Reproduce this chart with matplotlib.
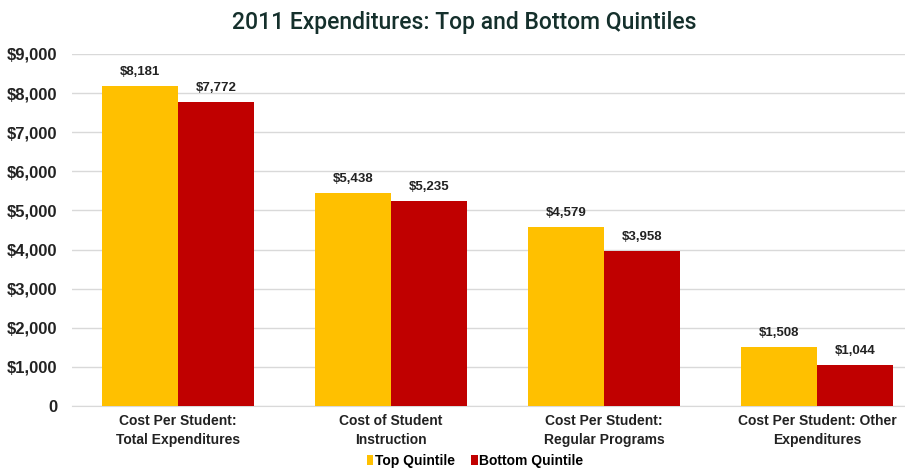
import numpy as np
import matplotlib.pyplot as plt
from matplotlib.ticker import FuncFormatter

plt.rcParams['font.family'] = ['Liberation Sans', 'DejaVu Sans']

categories = ['Cost Per Student:\nTotal Expenditures', 'Cost of Student\nInstruction',
              'Cost Per Student:\nRegular Programs', 'Cost Per Student: Other\nExpenditures']
top_quintile = [8181, 5438, 4579, 1508]
bottom_quintile = [7772, 5235, 3958, 1044]

fig = plt.figure(figsize=(9.05, 4.68), dpi=100)
ax = fig.add_axes([71.5 / 905, 1 - 406 / 468, (905 - 71.5) / 905, (406 - 54) / 468])

x = np.arange(len(categories))
w = 0.357
b1 = ax.bar(x - w / 2, top_quintile, w, color='#FFC000', label='Top Quintile', zorder=3)
b2 = ax.bar(x + w / 2, bottom_quintile, w, color='#C00000', label='Bottom Quintile', zorder=3)

for bars, vals in ((b1, top_quintile), (b2, bottom_quintile)):
    for r, v in zip(bars, vals):
        ax.text(r.get_x() + r.get_width() / 2, v + 200, f'${v:,}', ha='center', va='bottom',
                fontsize=9.5, fontweight='bold', color='#222222')

ax.set_ylim(0, 9000)
ax.set_yticks(range(0, 9001, 1000))
ax.yaxis.set_major_formatter(FuncFormatter(lambda v, p: '0' if v == 0 else f'${v:,.0f}'))
ax.set_xlim(-0.5, 3.413)
ax.set_xticks(x)
ax.set_xticklabels(categories, fontsize=10, fontweight='bold', color='#222222',
                   linespacing=1.4)
ax.tick_params(axis='y', labelsize=12, length=0, pad=10)
for t in ax.get_yticklabels():
    t.set_fontweight('bold')
    t.set_color('#222222')
ax.tick_params(axis='x', length=0, pad=6)
ax.grid(axis='y', color='#d9d9d9', linewidth=1, zorder=0)
for s in ('top', 'right', 'left'):
    ax.spines[s].set_visible(False)
ax.spines['bottom'].set_color('#d9d9d9')

fig.suptitle('2011 Expenditures: Top and Bottom Quintiles', y=0.952, x=0.513, fontsize=16.5,
             fontfamily='Roboto', fontweight='medium', color='#15302c', va='center')

fig.legend(handles=[b1, b2], loc='center', bbox_to_anchor=(0.525, 0.016), ncol=2,
           frameon=False, handlelength=0.45, handleheight=0.7, handletextpad=0.1,
           columnspacing=1.2, prop={'weight': 'bold', 'size': 10})

fig.savefig('out.png', dpi=100)
